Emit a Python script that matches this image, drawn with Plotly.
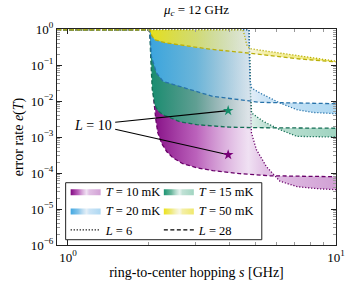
import math
import plotly.graph_objects as go

# ---------------- data ----------------
T_NAMES = ["10 mK", "15 mK", "20 mK", "50 mK"]
L_NAMES = ["6", "28"]

# T = 10 mK
S_L28_T10 = [0.91, 2.019, 2.054, 2.090, 2.127, 2.163, 2.239, 2.338, 2.461, 2.682, 3.026, 3.471, 4.379, 5.670, 7.339, 10.0]
E_L28_T10 = [0.94, 0.94, 0.140, 0.0109, 0.00303, 0.00132, 6.5e-4, 3.9e-4, 2.66e-4, 1.81e-4, 1.40e-4, 1.16e-4, 9.6e-5, 8.4e-5, 8.15e-5, 7.9e-5]
S_L6_T10 = [0.91, 4.732, 4.754, 4.794, 4.835, 5.047, 5.502, 6.178, 7.163, 8.568, 10.0]
E_L6_T10 = [0.94, 0.94, 0.140, 0.0109, 0.00132, 4.44e-4, 1.50e-4, 5.92e-5, 4.16e-5, 3.66e-5, 3.44e-5]

# T = 15 mK
S_L28_T15 = [0.91, 2.019, 2.037, 2.063, 2.108, 2.163, 2.258, 2.614, 3.026, 4.018, 5.202, 10.0]
E_L28_T15 = [0.94, 0.94, 0.140, 0.0206, 0.00789, 0.00538, 0.00416, 0.00266, 0.00220, 0.00187, 0.00181, 0.00175]
S_L6_T15 = [0.91, 4.732, 4.773, 4.794, 4.843, 5.351, 6.178, 7.152, 10.0]
E_L6_T15 = [0.94, 0.94, 0.140, 0.0206, 0.00464, 0.00271, 0.00160, 0.00104, 0.00100]

# T = 20 mK
S_L28_T20 = [0.91, 2.019, 2.047, 2.139, 2.264, 2.614, 3.024, 3.471, 4.379, 5.202, 7.339, 10.0]
E_L28_T20 = [0.94, 0.94, 0.173, 0.0600, 0.0350, 0.0255, 0.0185, 0.0134, 0.01087, 0.00915, 0.00880, 0.00841]
S_L6_T20 = [0.91, 4.732, 4.754, 4.773, 4.843, 5.202, 6.178, 7.152, 8.206, 10.0]
E_L6_T20 = [0.94, 0.94, 0.140, 0.0391, 0.0230, 0.0167, 0.00880, 0.00573, 0.00482, 0.00444]

# T = 50 mK
S_L28_T50 = [0.91, 2.019, 2.054, 2.108, 2.298, 2.503, 2.849, 3.382, 4.379, 5.918, 7.339, 10.0]
E_L28_T50 = [0.94, 0.94, 0.652, 0.504, 0.416, 0.378, 0.322, 0.275, 0.227, 0.176, 0.147, 0.122]
S_L6_T50 = [0.91, 4.494, 4.572, 4.640, 4.773, 5.351, 6.178, 7.152, 8.228, 10.0]
E_L6_T50 = [0.94, 0.94, 0.611, 0.366, 0.284, 0.250, 0.216, 0.185, 0.160, 0.128]

# highlighted L = 10 points (T = 15 mK, T = 10 mK)
STAR_S = [3.96, 3.96]
STAR_E = [5.4e-3, 3.2e-4]
STAR_LABEL = "<i>L</i> = 10"
LABEL_S, LABEL_E = 1.237, 2.06e-3
LEADER_S = 1.50
LEADER_E = [2.58e-3, 1.65e-3]

X_TICKS = [1, 10]
X_TICKTEXT = ["10<sup>0</sup>", "10<sup>1</sup>"]
Y_TICKS = [1e-6, 1e-5, 1e-4, 1e-3, 1e-2, 1e-1, 1]
Y_TICKTEXT = ["10<sup>−6</sup>", "10<sup>−5</sup>", "10<sup>−4</sup>", "10<sup>−3</sup>",
              "10<sup>−2</sup>", "10<sup>−1</sup>", "10<sup>0</sup>"]

# ---------------- styles ----------------
FONT = "Liberation Serif"
families = [
    (T_NAMES[0], S_L28_T10, E_L28_T10, S_L6_T10, E_L6_T10, "legend",
     "rgb(105,0,105)",
     [[0, "rgba(125,0,125,0.97)"], [0.25, "rgba(175,70,175,0.85)"], [0.53, "rgba(230,205,235,0.6)"],
      [0.62, "rgba(205,150,210,0.6)"], [1, "rgba(185,110,190,0.65)"]]),
    (T_NAMES[1], S_L28_T15, E_L28_T15, S_L6_T15, E_L6_T15, "legend2",
     "rgb(20,110,85)",
     [[0, "rgba(20,145,110,0.97)"], [0.25, "rgba(80,170,140,0.85)"], [0.53, "rgba(205,230,222,0.55)"],
      [0.62, "rgba(150,205,185,0.6)"], [1, "rgba(110,190,160,0.65)"]]),
    (T_NAMES[2], S_L28_T20, E_L28_T20, S_L6_T20, E_L6_T20, "legend",
     "rgb(40,115,170)",
     [[0, "rgba(60,165,225,0.97)"], [0.25, "rgba(110,185,230,0.85)"], [0.53, "rgba(205,225,240,0.55)"],
      [0.62, "rgba(170,210,240,0.6)"], [1, "rgba(130,195,235,0.65)"]]),
    (T_NAMES[3], S_L28_T50, E_L28_T50, S_L6_T50, E_L6_T50, "legend2",
     "rgb(185,175,10)",
     [[0, "rgba(235,225,20,0.97)"], [0.25, "rgba(235,228,90,0.8)"], [0.53, "rgba(240,238,205,0.5)"],
      [0.62, "rgba(238,230,120,0.65)"], [1, "rgba(235,225,60,0.75)"]]),
]

DASH28 = "4px,2.5px"
DOT6 = "1.2px,1.8px"

fig = go.Figure()
for name, s28, e28, s6, e6, leg, lcol, cscale in families:
    poly_x = s28[1:] + s6[:0:-1]
    poly_y = e28[1:] + e6[:0:-1]
    fig.add_trace(go.Scatter(
        x=poly_x, y=poly_y, mode="lines", fill="toself",
        line=dict(width=0, color=lcol),
        fillcolor=cscale[1][1],
        fillgradient=dict(type="horizontal", colorscale=cscale),
        name="<i>T</i> = " + name, legend=leg, hoverinfo="skip"))
    fig.add_trace(go.Scatter(x=s6, y=e6, mode="lines", showlegend=False,
                             line=dict(color=lcol, width=1.3, dash=DOT6), hoverinfo="skip"))
    fig.add_trace(go.Scatter(x=s28, y=e28, mode="lines", showlegend=False,
                             line=dict(color=lcol, width=1.3, dash=DASH28), hoverinfo="skip"))

# legend entries for L
fig.add_trace(go.Scatter(x=[None], y=[None], mode="lines", name="<i>L</i> = " + L_NAMES[0], legend="legend",
                         line=dict(color="black", width=1.2, dash=DOT6)))
fig.add_trace(go.Scatter(x=[None], y=[None], mode="lines", name="<i>L</i> = " + L_NAMES[1], legend="legend2",
                         line=dict(color="black", width=1.2, dash=DASH28)))

# leader lines and stars
for i in range(2):
    fig.add_trace(go.Scatter(x=[LEADER_S, STAR_S[i]], y=[LEADER_E[i], STAR_E[i]], mode="lines",
                             line=dict(color="black", width=1.1), showlegend=False, hoverinfo="skip"))
fig.add_trace(go.Scatter(x=STAR_S, y=STAR_E, mode="markers", showlegend=False,
                         marker=dict(symbol="star", size=8,
                                     color=["rgb(20,140,105)", "rgb(120,0,120)"], line=dict(width=0))))

fig.add_annotation(x=math.log10(LABEL_S), y=math.log10(LABEL_E), text=STAR_LABEL, showarrow=False,
                   font=dict(family=FONT, size=14, color="black"))

# legend frame
fig.add_shape(type="rect", xref="paper", yref="paper", x0=0.031, x1=0.734, y0=0.0245, y1=0.2884,
              fillcolor="white", line=dict(color="#222", width=1), layer="above")

minor_x = [0.91] + [k for k in range(2, 10)]
minor_y = [k * 10.0 ** p for p in range(-6, 0) for k in range(2, 10)]

axis_common = dict(type="log", showline=True, linecolor="#222", linewidth=1, mirror="ticks",
                   ticks="inside", ticklen=5, tickcolor="#222", showgrid=False, zeroline=False,
                   tickfont=dict(family=FONT, size=13, color="black"))

fig.update_xaxes(**axis_common, range=[math.log10(0.91), 1], tickvals=X_TICKS, ticktext=X_TICKTEXT,
                 minor=dict(tickvals=minor_x, ticks="inside", ticklen=3, tickcolor="#999", showgrid=False),
                 title=dict(text="ring-to-center hopping <i>s</i> [GHz]", font=dict(family=FONT, size=14, color="black"),
                            standoff=3))
fig.update_yaxes(**axis_common, range=[-6, 0], tickvals=Y_TICKS, ticktext=Y_TICKTEXT,
                 minor=dict(tickvals=minor_y, ticks="inside", ticklen=3, tickcolor="#999", showgrid=False),
                 title=dict(text="error rate <i>e</i>(<i>T</i>)", font=dict(family=FONT, size=14, color="black"),
                            standoff=3))

leg_common = dict(orientation="v", yanchor="top", xanchor="left", bgcolor="rgba(0,0,0,0)",
                  borderwidth=0, tracegroupgap=0, font=dict(family=FONT, size=12.5, color="black"))

fig.update_layout(
    width=349, height=286,
    margin=dict(l=57, r=13, t=29, b=41, autoexpand=False),
    paper_bgcolor="white", plot_bgcolor="white",
    title=dict(text="<i>μ<sub>c</sub></i> = 12 GHz", x=0.5, xref="paper", y=0.968, yanchor="middle",
               font=dict(family=FONT, size=13, color="black")),
    font=dict(family=FONT, size=13, color="black"),
    legend=dict(x=0.031, y=0.316, **leg_common),
    legend2=dict(x=0.365, y=0.316, **leg_common),
)

fig.write_html("out.html", config={"displayModeBar": False},
               post_script="document.body.style.margin='0px';")
